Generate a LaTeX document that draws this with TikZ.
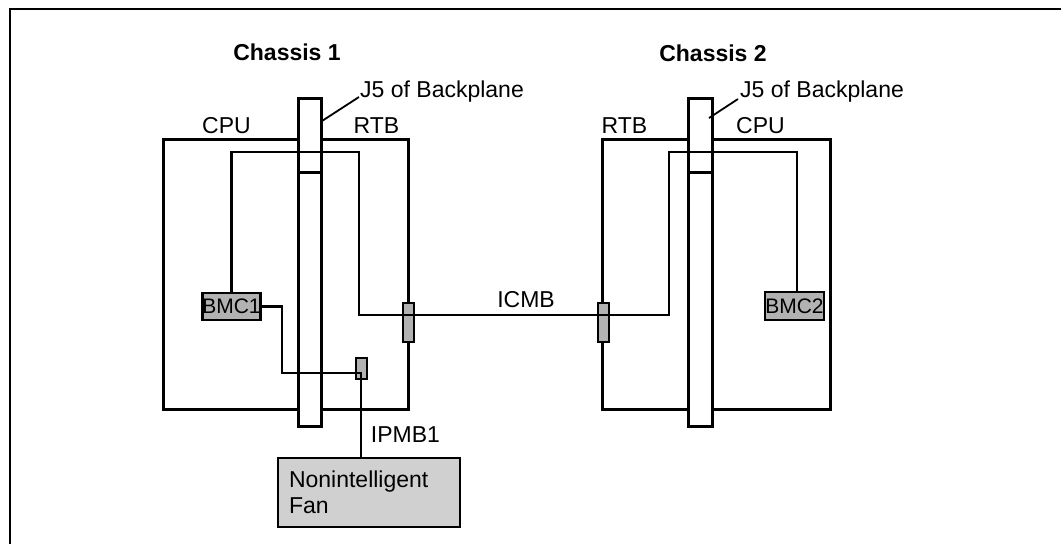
\documentclass[tikz,border=0pt]{standalone}
\usepackage{fontspec}
\setmainfont{Liberation Sans}
\definecolor{darkgray1}{RGB}{178,178,178}
\definecolor{lightgray1}{RGB}{208,208,208}
\begin{document}
\begin{tikzpicture}[x=1pt,y=-1pt,
  boxline/.style={line width=3pt},
  wire/.style={line width=2.6pt},
  chassis/.style={draw,boxline,rectangle,inner sep=0pt,outer sep=0pt},
  barbox/.style={draw,boxline,fill=white,rectangle,inner sep=0pt,outer sep=0pt},
  bmcbox/.style={draw,line width=2.8pt,fill=darkgray1,rectangle,inner sep=0pt,outer sep=0pt,font=\fontsize{21}{24}\selectfont},
  conbox/.style={draw,line width=2.6pt,fill=darkgray1,rectangle,inner sep=0pt,outer sep=0pt},
  lbl/.style={inner sep=0pt,font=\fontsize{23}{26}\selectfont},
  title/.style={inner sep=0pt,font=\fontsize{23}{26}\selectfont\bfseries}
]
\useasboundingbox (0,0) rectangle (1061,544);
% frame
\coordinate (fbl) at (10,544);
\coordinate (ftl) at (10,9);
\coordinate (ftr) at (1061,9);
\draw[line width=2.2pt] (fbl) -- (ftl) -- (ftr);

% chassis outer boxes
\node[chassis,minimum width=245pt,minimum height=270pt] (box1) at (285.5,274) {};
\node[chassis,minimum width=228pt,minimum height=270pt] (box2) at (716,274) {};

% backplane bars
\node[barbox,minimum width=23pt,minimum height=328pt] (bar1) at (309.5,262) {};
\node[barbox,minimum width=24pt,minimum height=328pt] (bar2) at (700,262) {};
\coordinate (slot) at (0,172);
\draw[boxline] (bar1.west |- slot) -- (bar1.east |- slot);
\draw[boxline] (bar2.west |- slot) -- (bar2.east |- slot);

% connectors
\node[conbox,minimum width=11pt,minimum height=39pt] (con1) at (408.5,322.5) {};
\node[conbox,minimum width=11pt,minimum height=39pt] (con2) at (603.5,322.5) {};
\node[conbox,minimum width=11pt,minimum height=21pt] (con3) at (361.5,368.5) {};

% BMCs
\node[bmcbox,minimum width=55pt,minimum height=27pt] (bmc1) at (231.5,306.5) {BMC1};
\node[bmcbox,minimum width=59pt,minimum height=28pt] (bmc2) at (794.5,306) {BMC2};

% fan
\node[draw,line width=2.8pt,fill=lightgray1,rectangle,outer sep=0pt,
      minimum width=182pt,minimum height=69pt,text width=160pt,inner sep=11pt,align=left,
      font=\fontsize{23}{26}\selectfont] (fan) at (369,492.5) {Nonintelligent\\Fan};

% wires
\coordinate (c1top) at (359,152);
\coordinate (icmbL) at (359,315);
\coordinate (icmbR) at (669,315);
\coordinate (c2top) at (797,152);
\draw[wire] (bmc1.north) |- (c1top) -- (icmbL) -- (icmbR) |- (c2top) -- (c2top |- bmc2.north);

\coordinate (b1) at (282,373);
\coordinate (ipmbC) at (361,373);
\draw[wire] (bmc1.east) -| (b1) -- (ipmbC) -- (ipmbC |- fan.north);

% labels
\node[title] (ch1) at (287,52) {Chassis 1};
\node[title] (ch2) at (713,53) {Chassis 2};
\node[lbl,anchor=base west] (j5a) at (360,97) {J5 of Backplane};
\node[lbl,anchor=base west] (j5b) at (740,97) {J5 of Backplane};
\coordinate (l1) at (322,121);
\coordinate (l2) at (709,118);
\draw[line width=1.8pt] (l1) -- ([xshift=-1pt]j5a.base west);
\draw[line width=1.8pt] (l2) -- ([xshift=-2pt,yshift=-2pt]j5b.base west);
\node[lbl] (cpu1) at (226.5,126) {CPU};
\node[lbl] (rtb1) at (376.5,126) {RTB};
\node[lbl] (rtb2) at (624.5,126) {RTB};
\node[lbl] (cpu2) at (760.5,126) {CPU};
\node[lbl] (icmb) at (526,300) {ICMB};
\node[lbl] (ipmb) at (405.5,435) {IPMB1};
\end{tikzpicture}
\end{document}
